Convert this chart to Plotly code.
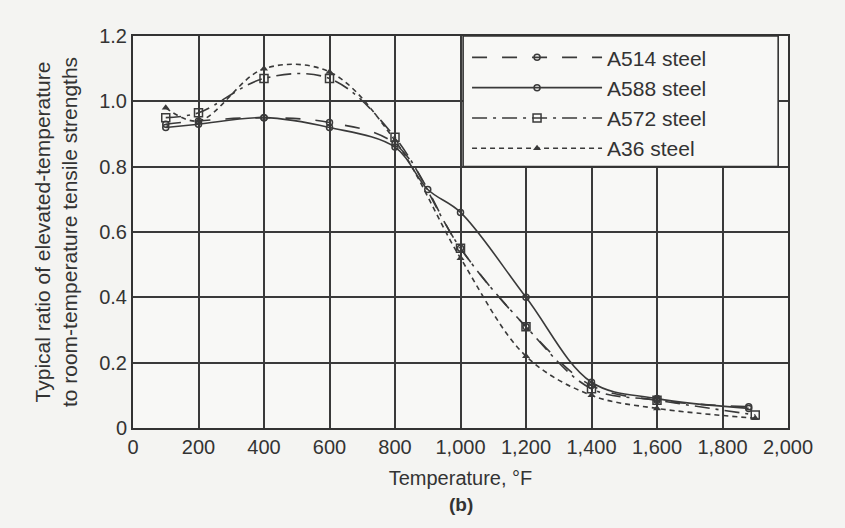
import plotly.graph_objects as go

# ---- data ----
a514_temp = [100, 200, 400, 600, 800, 1000, 1200, 1400, 1600, 1880]
a514_ratio = [0.93, 0.94, 0.95, 0.935, 0.87, 0.55, 0.31, 0.13, 0.085, 0.065]

a588_temp = [100, 200, 400, 600, 800, 900, 1000, 1200, 1400, 1600, 1880]
a588_ratio = [0.92, 0.93, 0.95, 0.92, 0.86, 0.73, 0.66, 0.40, 0.14, 0.09, 0.06]

a572_temp = [100, 200, 400, 600, 800, 1000, 1200, 1400, 1600, 1900]
a572_ratio = [0.95, 0.965, 1.07, 1.07, 0.89, 0.55, 0.31, 0.12, 0.085, 0.04]

a36_temp = [100, 200, 400, 600, 800, 1000, 1200, 1400, 1600, 1900]
a36_ratio = [0.98, 0.94, 1.10, 1.09, 0.88, 0.52, 0.22, 0.10, 0.06, 0.03]

x_ticks = [0, 200, 400, 600, 800, 1000, 1200, 1400, 1600, 1800, 2000]
x_ticktext = ["0", "200", "400", "600", "800", "1,000", "1,200", "1,400", "1,600", "1,800", "2,000"]
y_ticks = [0, 0.2, 0.4, 0.6, 0.8, 1.0, 1.2]
y_ticktext = ["0", "0.2", "0.4", "0.6", "0.8", "1.0", "1.2"]

INK = "#3a3a3a"
TXT = "#333333"
PLOT_BG = "#f8f8f6"
FONT = "Liberation Sans"

fig = go.Figure()
fig.add_trace(go.Scatter(
    x=a514_temp, y=a514_ratio, name="A514 steel", mode="lines+markers",
    line=dict(color=INK, width=1.6, dash="longdash", shape="spline"),
    marker=dict(symbol="circle-open", size=6, color=INK, line=dict(width=1.5))))
fig.add_trace(go.Scatter(
    x=a588_temp, y=a588_ratio, name="A588 steel", mode="lines+markers",
    line=dict(color=INK, width=1.6, dash="solid", shape="spline"),
    marker=dict(symbol="circle-open", size=6, color=INK, line=dict(width=1.5))))
fig.add_trace(go.Scatter(
    x=a572_temp, y=a572_ratio, name="A572 steel", mode="lines+markers",
    line=dict(color=INK, width=1.6, dash="longdashdot", shape="spline"),
    marker=dict(symbol="square-open", size=8, color=INK, line=dict(width=1.5))))
fig.add_trace(go.Scatter(
    x=a36_temp, y=a36_ratio, name="A36 steel", mode="lines+markers",
    line=dict(color=INK, width=1.6, dash="5px,4px", shape="spline"),
    marker=dict(symbol="triangle-up", size=7, color=INK)))

# legend frame (decoration) that hides the grid behind the key
fig.add_shape(type="rect", xref="paper", yref="paper",
              x0=0.504, x1=0.985, y0=0.667, y1=1.0, layer="above",
              fillcolor=PLOT_BG, line=dict(color="#333333", width=1.6))

fig.update_layout(
    width=845, height=528,
    margin=dict(l=133, r=57, t=36, b=100),
    paper_bgcolor="#f4f4f2", plot_bgcolor=PLOT_BG,
    font=dict(family=FONT, size=20, color=TXT),
    showlegend=True,
    legend=dict(
        orientation="v",
        x=0.51, y=0.997, xanchor="left", yanchor="top",
        bgcolor="rgba(0,0,0,0)", borderwidth=0,
        font=dict(family=FONT, size=21, color=TXT),
        itemwidth=130, tracegroupgap=0,
    ),
    xaxis=dict(
        range=[0, 2000], tickvals=x_ticks, ticktext=x_ticktext,
        showgrid=True, gridcolor=INK, gridwidth=1.8,
        showline=True, linecolor=TXT, linewidth=2, mirror=True,
        zeroline=False, ticks="", ticklen=0,
        title=dict(text="Temperature, °F", font=dict(size=20), standoff=14),
        tickfont=dict(size=20),
    ),
    yaxis=dict(
        range=[0, 1.2], tickvals=y_ticks, ticktext=y_ticktext,
        showgrid=True, gridcolor=INK, gridwidth=1.8,
        showline=True, linecolor=TXT, linewidth=2, mirror=True,
        zeroline=False, ticks="", ticklen=0,
        title=dict(text="Typical ratio of elevated-temperature<br>to room-temperature tensile strengths",
                   font=dict(size=21), standoff=16),
        tickfont=dict(size=20),
    ),
)
fig.add_annotation(text="<b>(b)</b>", xref="paper", yref="paper", x=0.5, y=-0.196,
                   xanchor="center", yanchor="middle", showarrow=False,
                   font=dict(family=FONT, size=19, color=TXT))

fig.write_html("out.html")
